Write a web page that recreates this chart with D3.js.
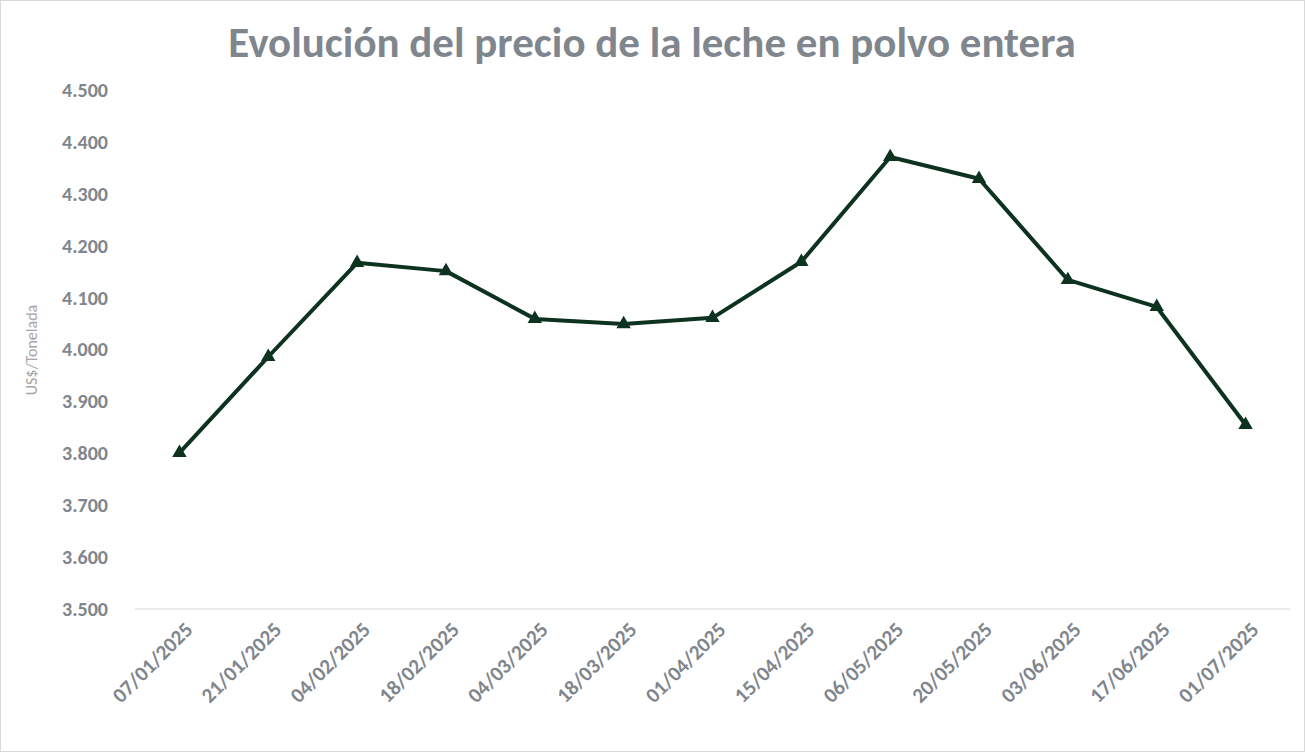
<!DOCTYPE html>
<html><head><meta charset="utf-8">
<script src="https://cdn.jsdelivr.net/npm/d3@7"></script>
<style>body{margin:0;background:#fff;font-family:Calibri,"Open Sans",sans-serif}</style>
</head><body><svg id="c" width="1305" height="752"></svg>
<script>
const categories=["07/01/2025","21/01/2025","04/02/2025","18/02/2025","04/03/2025","18/03/2025","01/04/2025","15/04/2025","06/05/2025","20/05/2025","03/06/2025","17/06/2025","01/07/2025"];
const values=[3801,3986,4167,4151,4059,4049,4061,4169,4371,4329,4134,4082,3855];
const yTicks=[3500,3600,3700,3800,3900,4000,4100,4200,4300,4400,4500];
const title="Evolución del precio de la leche en polvo entera";
const yLabel="US$/Tonelada";

const svg=d3.select("#c");
const grey="#7f868d";
const ff="Calibri,'Open Sans',sans-serif";
svg.append("rect").attr("x",0.5).attr("y",0.5).attr("width",1304).attr("height",751).attr("fill","#fff").attr("stroke","#d9d9d9");
const x=d3.scalePoint().domain(categories).range([135,1290]).padding(0.5);
const y=d3.scaleLinear().domain([3500,4500]).range([609,90]);
svg.append("text").attr("x",652).attr("y",57).attr("text-anchor","middle").attr("font-size",43).attr("font-weight","bold").attr("fill",grey).attr("font-family",ff).text(title);
svg.append("line").attr("x1",135).attr("x2",1290).attr("y1",y(3500)).attr("y2",y(3500)).attr("stroke","#d9d9d9");
const ya=svg.append("g").attr("transform","translate(111,0)").call(d3.axisLeft(y).tickValues(yTicks).tickSize(0).tickFormat(d=>d3.format(",.3f")(d/1000).replace(".",",").replace(",",".")));
ya.select(".domain").remove();
ya.selectAll("text").attr("font-size",20).attr("font-weight","bold").attr("fill",grey).attr("font-family",ff);
const xa=svg.append("g").attr("transform","translate(0,609)").call(d3.axisBottom(x).tickSize(0));
xa.select(".domain").remove();
xa.selectAll("text").attr("font-size",21).attr("font-weight","bold").attr("fill",grey).attr("font-family",ff)
  .attr("text-anchor","end").attr("dy",null).attr("y",0)
  .attr("transform","translate(14,22) rotate(-45)");
svg.append("text").attr("transform","translate(37,350) rotate(-90)").attr("text-anchor","middle").attr("font-size",16).attr("fill","#a6a6a6").attr("font-family",ff).text(yLabel);
const line=d3.line().x((d,i)=>x(categories[i])).y(d=>y(d));
svg.append("path").datum(values).attr("d",line).attr("fill","none").attr("stroke","#0d3320").attr("stroke-width",4).attr("stroke-linejoin","round");
svg.selectAll(".m").data(values).join("path").attr("d",d3.symbol(d3.symbolTriangle,90)).attr("transform",(d,i)=>`translate(${x(categories[i])},${y(d)})`).attr("fill","#0d3320");
</script></body></html>
